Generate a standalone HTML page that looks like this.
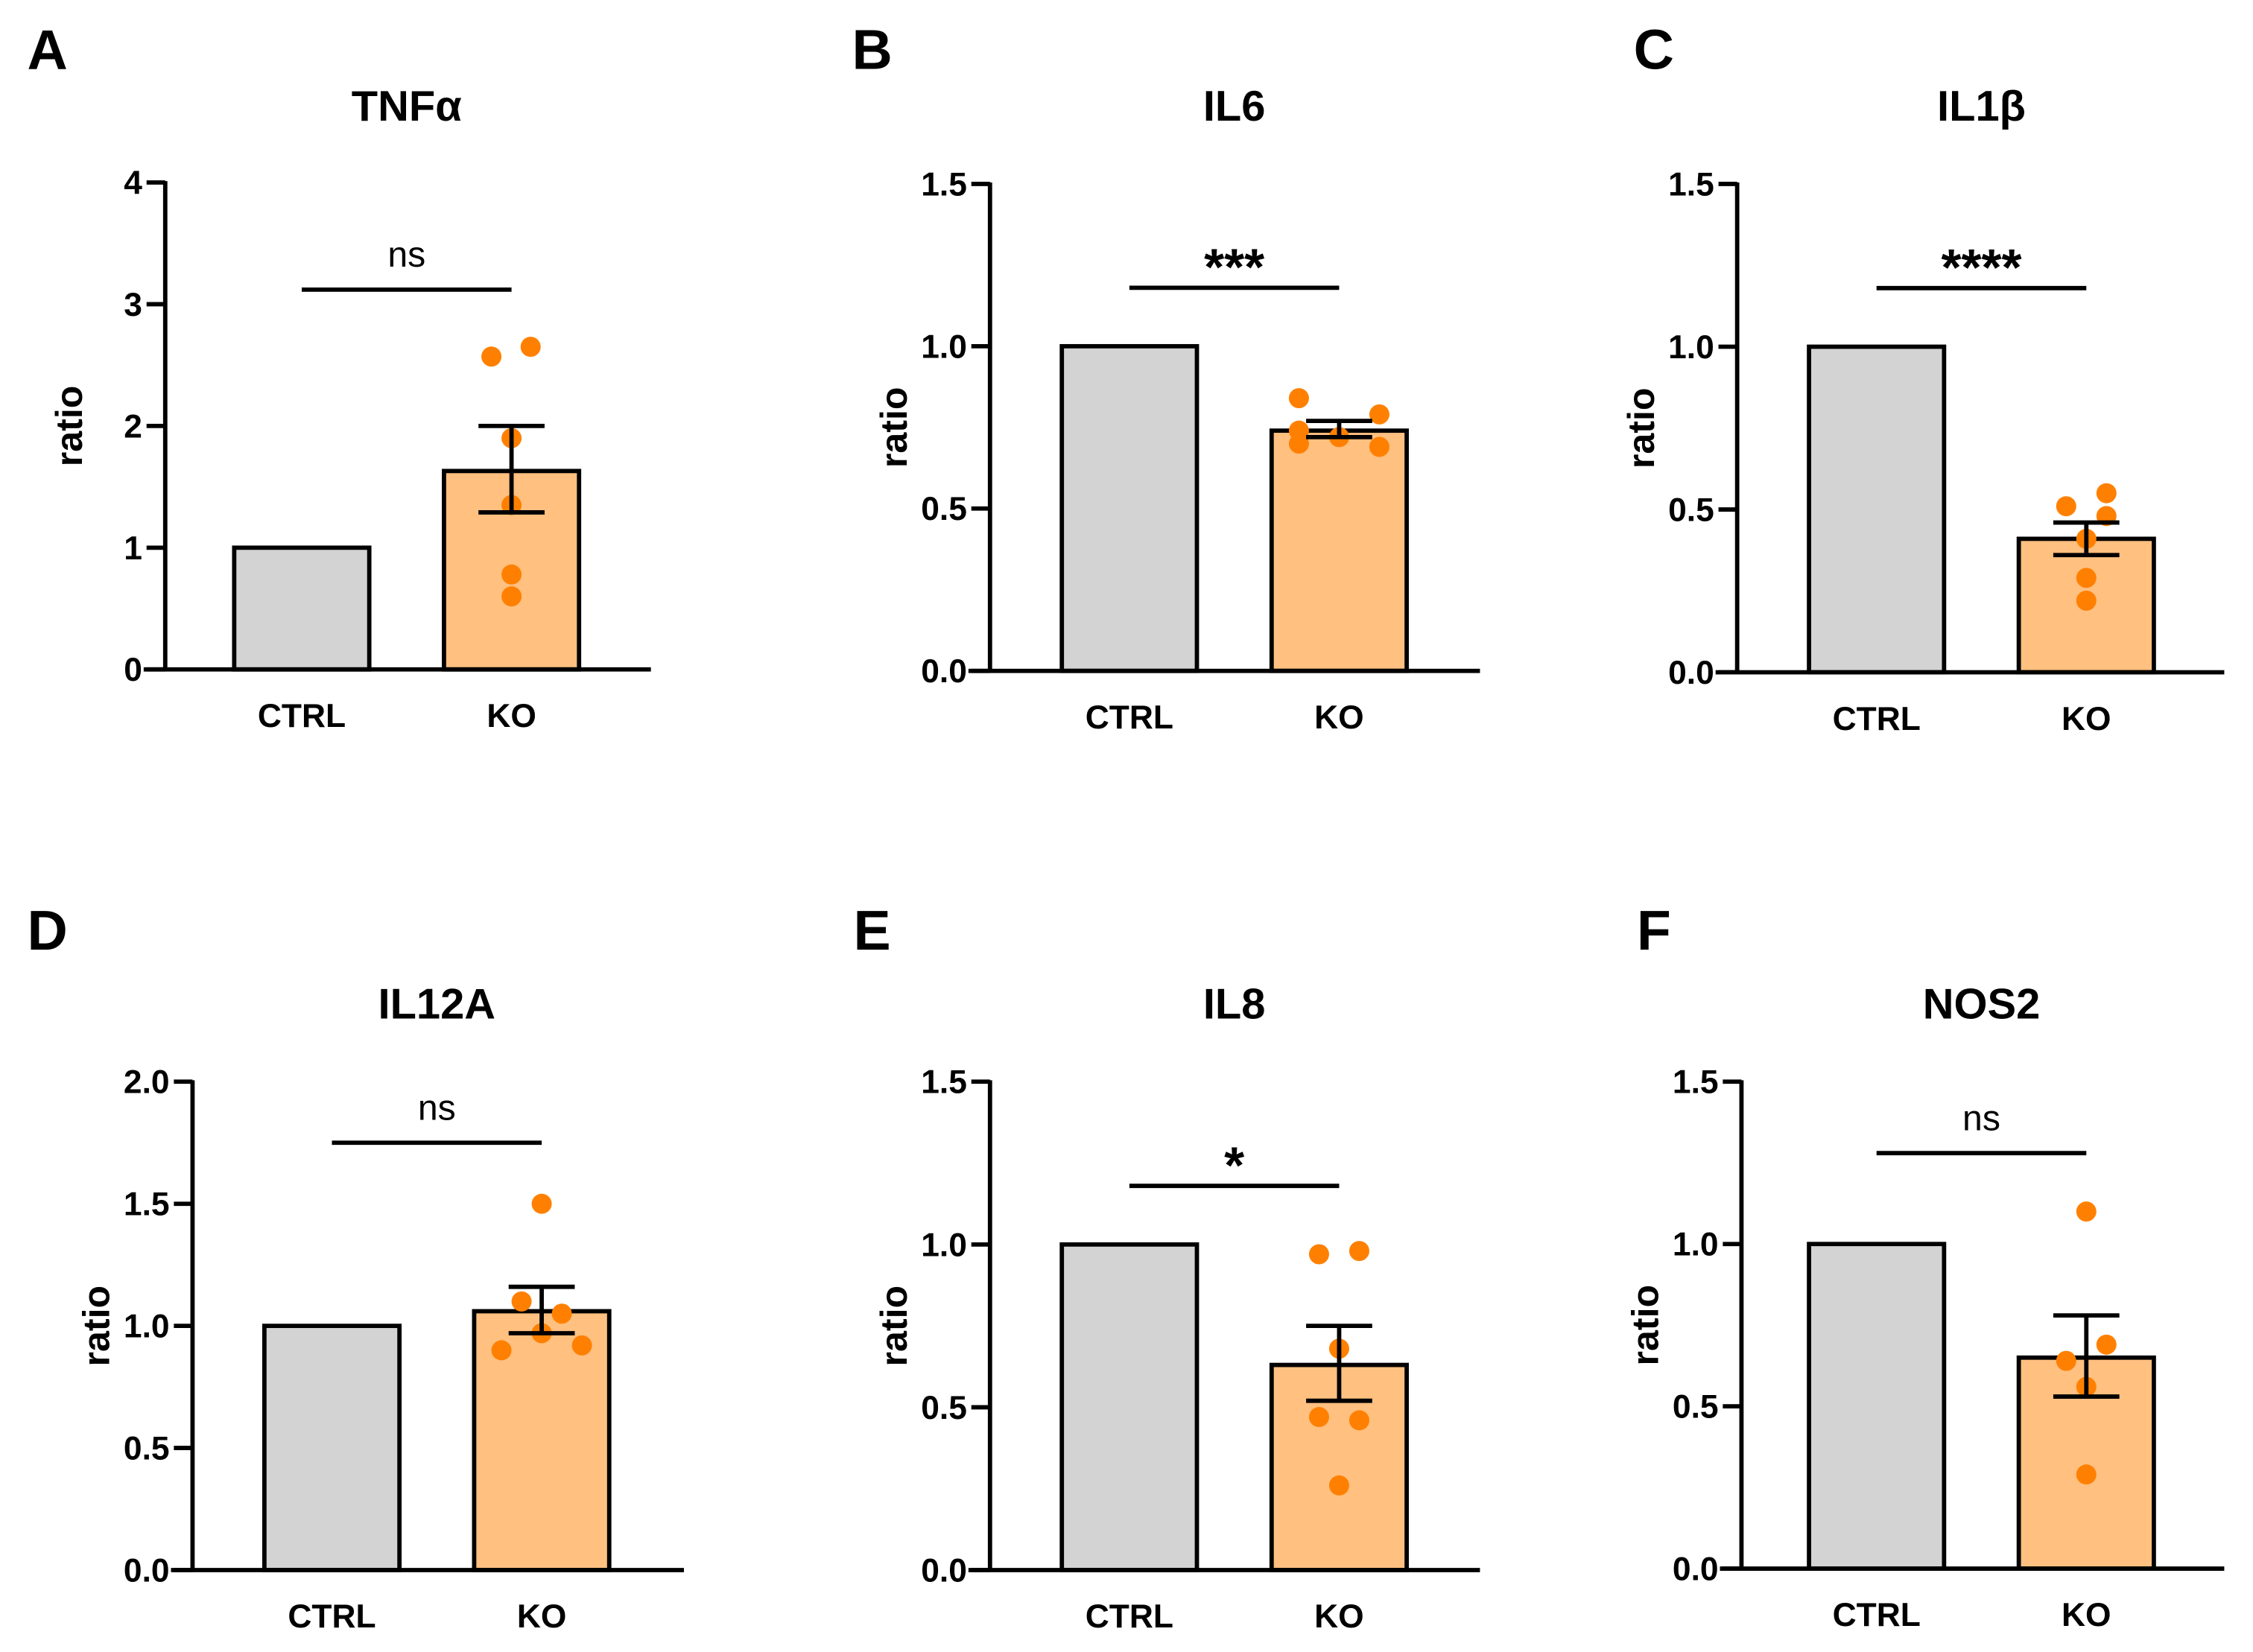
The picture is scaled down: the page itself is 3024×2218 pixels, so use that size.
<!DOCTYPE html>
<html><head><meta charset="utf-8"><style>
html,body{margin:0;padding:0;background:#fff}
svg{display:block}
text{font-family:"Liberation Sans",Arial,sans-serif;fill:#000}
</style></head><body>
<svg id="fig" width="3024" height="2218" viewBox="0 0 1568 1150" xmlns="http://www.w3.org/2000/svg"></svg>
<script>
const panelLetters = ["A","B","C","D","E","F"];
const panelTitles = ["TNFα","IL6","IL1β","IL12A","IL8","NOS2"];
const categories = ["CTRL","KO"];
const ctrlValues = [1,1,1,1,1,1];
const koMeans = [1.63,0.74,0.41,1.06,0.63,0.65];
const koSemLow = [1.29,0.72,0.36,0.97,0.52,0.53];
const koSemHigh = [2.0,0.77,0.46,1.16,0.75,0.78];
const koPointsA = [2.57,2.65,1.9,1.35,0.78,0.6];
const koPointsB = [0.84,0.74,0.7,0.72,0.79,0.69];
const koPointsC = [0.51,0.55,0.48,0.41,0.29,0.22];
const koPointsD = [1.5,1.1,1.05,0.97,0.9,0.92];
const koPointsE = [0.97,0.98,0.68,0.47,0.46,0.26];
const koPointsF = [1.1,0.69,0.64,0.56,0.29];
const jitterA = [-1,0.95,0,0,0,0];
const jitterB = [-2,-2,-2,0,2,2];
const jitterC = [-1,1,1,0,0,0];
const jitterD = [0,-1,1,0,-2,2];
const jitterE = [-1,1,0,-1,1,0];
const jitterF = [0,1,-1,0,0];
const yMaxes = [4,1.5,1.5,2,1.5,1.5];
const tickLabelsA = ["0","1","2","3","4"];
const tickLabels15 = ["0.0","0.5","1.0","1.5"];
const tickLabels20 = ["0.0","0.5","1.0","1.5","2.0"];
const sigLabels = ["ns","***","****","ns","*","ns"];
const sigLevels = [3.12,1.18,1.18,1.75,1.18,1.28];

const allPoints=[koPointsA,koPointsB,koPointsC,koPointsD,koPointsE,koPointsF];
const allJitter=[jitterA,jitterB,jitterC,jitterD,jitterE,jitterF];
const allTicks=[tickLabelsA,tickLabels15,tickLabels15,tickLabels20,tickLabels15,tickLabels15];

const NS="http://www.w3.org/2000/svg";
const svg=document.getElementById('fig');
function mk(tag,attrs,parent,txt){const e=document.createElementNS(NS,tag);for(const k in attrs)e.setAttribute(k,attrs[k]);if(txt!==undefined)e.textContent=txt;(parent||svg).appendChild(e);return e;}

const layouts=[
 {ax:115,top:127,bot:466,xe:453,b0:163,b1:309,ly:35,lx:33,ty:73},
 {ax:689,top:128,bot:467,xe:1030,b0:739,b1:885,ly:35,lx:607,ty:73},
 {ax:1209,top:128,bot:468,xe:1548,b0:1259,b1:1405,ly:35,lx:1151,ty:73},
 {ax:134,top:753,bot:1093,xe:476,b0:184,b1:330,ly:648,lx:33,ty:698},
 {ax:689,top:753,bot:1093,xe:1030,b0:739,b1:885,ly:648,lx:607,ty:698},
 {ax:1212,top:753,bot:1092,xe:1548,b0:1259,b1:1405,ly:648,lx:1151,ty:698}
];
const BW=94;
for(let p=0;p<6;p++){
 const L=layouts[p];
 const g=mk('g',{});
 
 
 const y=v=>L.bot-(v/yMaxes[p])*(L.bot-L.top);
 const cx0=L.b0+BW/2, cx1=L.b1+BW/2;
 let t=mk('text',{x:L.lx,y:L.ly+13,'font-size':39,'font-weight':'bold','text-anchor':'middle'},g,panelLetters[p]);
 
 t=mk('text',{x:(cx0+cx1)/2,y:L.ty+11,'font-size':30,'font-weight':'bold','text-anchor':'middle'},g,panelTitles[p]);
 
 let r=mk('rect',{x:L.b0,y:y(ctrlValues[p]),width:BW,height:L.bot-y(ctrlValues[p]),fill:'#d3d3d3',stroke:'#000','stroke-width':3},g);
 
 r=mk('rect',{x:L.b1,y:y(koMeans[p]),width:BW,height:L.bot-y(koMeans[p]),fill:'#ffc080',stroke:'#000','stroke-width':3},g);
 
 allPoints[p].forEach((v,i)=>{
  const c=mk('circle',{cx:cx1+allJitter[p][i]*14,cy:y(v),r:7,fill:'#ff8000'},g);
  
  
 });
 const eb=mk('g',{stroke:'#000','stroke-width':3},g);
 
 mk('line',{x1:cx1,x2:cx1,y1:y(koSemLow[p]),y2:y(koSemHigh[p])},eb);
 mk('line',{x1:cx1-23,x2:cx1+23,y1:y(koSemLow[p]),y2:y(koSemLow[p])},eb);
 mk('line',{x1:cx1-23,x2:cx1+23,y1:y(koSemHigh[p]),y2:y(koSemHigh[p])},eb);
 const ax=mk('g',{stroke:'#000','stroke-width':3},g);
 
 mk('line',{x1:L.ax,x2:L.ax,y1:L.top-1,y2:L.bot},ax);
 mk('line',{x1:L.ax-15,x2:L.xe,y1:L.bot,y2:L.bot},ax);
 const ticks=allTicks[p];
 ticks.forEach((lab,i)=>{
  const v=yMaxes[p]*i/(ticks.length-1);
  mk('line',{x1:L.ax-13,x2:L.ax,y1:y(v),y2:y(v)},ax);
  const tl=mk('text',{x:L.ax-16,y:y(v)+8,'font-size':23,'font-weight':'bold','text-anchor':'end'},g,lab);
  
 });
 categories.forEach((c,i)=>{
  const tl=mk('text',{x:i?cx1:cx0,y:L.bot+40,'font-size':23,'font-weight':'bold','text-anchor':'middle'},g,c);
  
 });
 const yl=mk('text',{x:0,y:0,'font-size':26,'font-weight':'bold','text-anchor':'middle',transform:`translate(${L.ax-58},${(L.top+L.bot)/2}) rotate(-90)`},g,'ratio');
 
 const sy=y(sigLevels[p]);
 const sl=mk('line',{x1:cx0,x2:cx1,y1:sy,y2:sy,stroke:'#000','stroke-width':3},g);
 
 const isStar=sigLabels[p]!=='ns';
 const st=mk('text',{x:(cx0+cx1)/2,y:isStar?sy-2:sy-16,'font-size':isStar?36:25,'font-weight':isStar?'bold':'normal','text-anchor':'middle'},g,sigLabels[p]);
 
}
</script>
</body></html>
